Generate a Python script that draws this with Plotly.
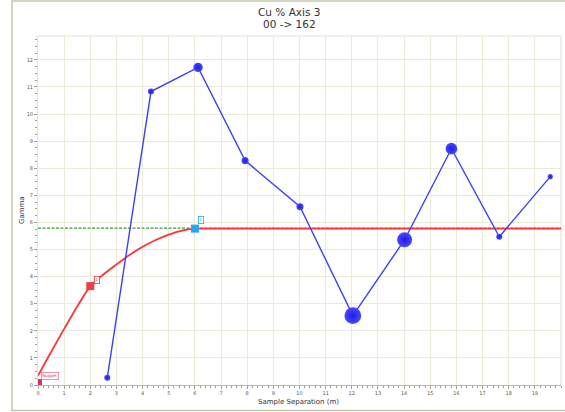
import plotly.graph_objects as go

# ---------------- data ----------------
lag_x = [2.65, 4.32, 6.12, 7.92, 10.02, 12.04, 14.02, 15.81, 17.64, 19.59]
gamma_y = [0.27, 10.83, 11.72, 8.28, 6.58, 2.56, 5.36, 8.72, 5.47, 7.69]
pairs = [120, 120, 290, 165, 165, 930, 750, 455, 120, 85]

model_x = [0.0, 0.5, 1.0, 1.5, 2.0, 2.5, 3.0, 3.5, 4.0, 4.5, 5.0, 5.5, 6.0, 6.5, 20.0]
model_y = [0.35, 1.22, 2.07, 2.9, 3.65, 4.08, 4.45, 4.8, 5.1, 5.35, 5.55, 5.7, 5.77, 5.77, 5.77]

sill_x = [0, 20]
sill_y = [5.79, 5.79]

nugget_y = 0.22
struct_x = [2.0, 6.0]
struct_y = [3.65, 5.77]
struct_labels = ["1", "2"]

x_ticks = list(range(0, 20))
y_ticks = list(range(0, 13))

title_lines = ["Cu % Axis 3", "00 -> 162"]

# ---------------- figure ----------------
W, H = 565, 412
ML, MR, MT, MB = 38, 4, 36, 27
FONT = "DejaVu Sans"

fig = go.Figure()

# sill (dashed green)
fig.add_trace(go.Scatter(x=sill_x, y=sill_y, mode="lines",
                         line=dict(color="#3c9a3c", width=1.3, dash="3px,1.5px"),
                         hoverinfo="skip"))
# model curve
fig.add_trace(go.Scatter(x=model_x, y=model_y, mode="lines",
                         line=dict(color="#ff3333", width=1.8, shape="spline", smoothing=0.4),
                         hoverinfo="skip"))
# nugget marker
fig.add_trace(go.Bar(x=[0.07], y=[nugget_y], width=[0.14],
                     marker=dict(color="#d42f6c", line=dict(width=0)),
                     hoverinfo="skip"))
# structure markers
fig.add_trace(go.Scatter(x=struct_x, y=struct_y, mode="markers",
                         marker=dict(symbol="square", size=8,
                                     color=["#ee4040", "#22a8ee"],
                                     line=dict(width=0)),
                         hoverinfo="skip"))
# experimental variogram
sizes = [p ** 0.5 * 0.55 for p in pairs]
fig.add_trace(go.Scatter(x=lag_x, y=gamma_y, mode="lines+markers",
                         line=dict(color="#3f3ff8", width=1.4),
                         marker=dict(size=sizes, color="#4a4aff", opacity=1,
                                     gradient=dict(type="radial", color="#1c1ce6"),
                                     line=dict(width=0))))

# labels on model
fig.add_annotation(x=0.12, y=0.34, xanchor="left", yanchor="middle",
                   text="Nugget", showarrow=False,
                   font=dict(family=FONT, size=4, color="#d42f6c"),
                   bordercolor="#e07aa0", borderwidth=0.8, borderpad=0.5,
                   bgcolor="white")
label_colors = ["#ee4040", "#22a8ee"]
label_pos = [(2.24, 3.89), (6.23, 6.09)]
for (lx, ly), t, c in zip(label_pos, struct_labels, label_colors):
    fig.add_annotation(x=lx, y=ly, text=t, showarrow=False,
                       font=dict(family=FONT, size=4, color=c),
                       bordercolor=c, borderwidth=0.8, borderpad=0.5,
                       bgcolor="white")

# title lines
cx = (289 - ML) / (W - ML - MR)
for i, t in enumerate(title_lines):
    fig.add_annotation(xref="paper", yref="paper", x=cx,
                       y=1 + (MT - (12 + 12 * i)) / (H - MT - MB),
                       text=t, showarrow=False, xanchor="center", yanchor="middle",
                       font=dict(family=FONT, size=10.5, color="#333333"))

# axis titles
fig.add_annotation(xref="paper", yref="paper",
                   x=(298 - ML) / (W - ML - MR), y=-(402 - (H - MB)) / (H - MT - MB),
                   text="Sample Separation (m)", showarrow=False,
                   font=dict(family=FONT, size=7, color="#333333"),
                   xanchor="center", yanchor="middle")
fig.add_annotation(xref="paper", yref="paper",
                   x=-(ML - 22) / (W - ML - MR), y=(H - MB - 210) / (H - MT - MB),
                   text="Gamma", showarrow=False, textangle=-90,
                   font=dict(family=FONT, size=7, color="#333333"),
                   xanchor="center", yanchor="middle")

# outer frame
fig.add_shape(type="rect", xref="paper", yref="paper",
              x0=-(ML - 12) / (W - ML - MR), x1=1 + (MR + 2) / (W - ML - MR),
              y0=-(MB - 1.5) / (H - MT - MB), y1=1 + (MT - 1) / (H - MT - MB),
              line=dict(color="#c4c7ad", width=1.5), layer="below")

grid = "#ebebdc"
fig.update_xaxes(range=[0, 20], tickvals=x_ticks, ticktext=[str(v) for v in x_ticks],
                 showgrid=True, gridcolor=grid, gridwidth=1,
                 showline=True, linecolor="#b9bc9c", linewidth=1,
                 ticks="outside", ticklen=3, tickcolor="#9fa283",
                 tickfont=dict(family=FONT, size=5, color="#555555"),
                 minor=dict(dtick=0.2, ticks="outside", ticklen=2, tickcolor="#9fa283", showgrid=False),
                 mirror=False, zeroline=False, fixedrange=True)
fig.update_yaxes(range=[0, 12.88], tickvals=y_ticks, ticktext=[str(v) for v in y_ticks],
                 showgrid=True, gridcolor=grid, gridwidth=1,
                 showline=True, linecolor="#e2e2d2", linewidth=1,
                 ticks="outside", ticklen=3, tickcolor="#9fa283",
                 tickfont=dict(family=FONT, size=5, color="#555555"),
                 minor=dict(dtick=0.25, ticks="outside", ticklen=2, tickcolor="#9fa283", showgrid=False),
                 zeroline=False, fixedrange=True)

fig.add_shape(type="line", xref="paper", yref="paper", x0=0, x1=1, y0=1, y1=1,
              line=dict(color="#e2e2d2", width=1), layer="below")
fig.add_shape(type="line", xref="paper", yref="paper", x0=1, x1=1, y0=0, y1=1,
              line=dict(color="#e2e2d2", width=1), layer="below")

fig.update_layout(width=W, height=H, margin=dict(l=ML, r=MR, t=MT, b=MB),
                  paper_bgcolor="white", plot_bgcolor="white",
                  showlegend=False, bargap=0, hovermode=False)

fig.write_html("out.html", config={"displayModeBar": False},
               post_script="document.body.style.margin='0';document.body.style.padding='0';"
                           "document.documentElement.style.overflow='hidden';")
